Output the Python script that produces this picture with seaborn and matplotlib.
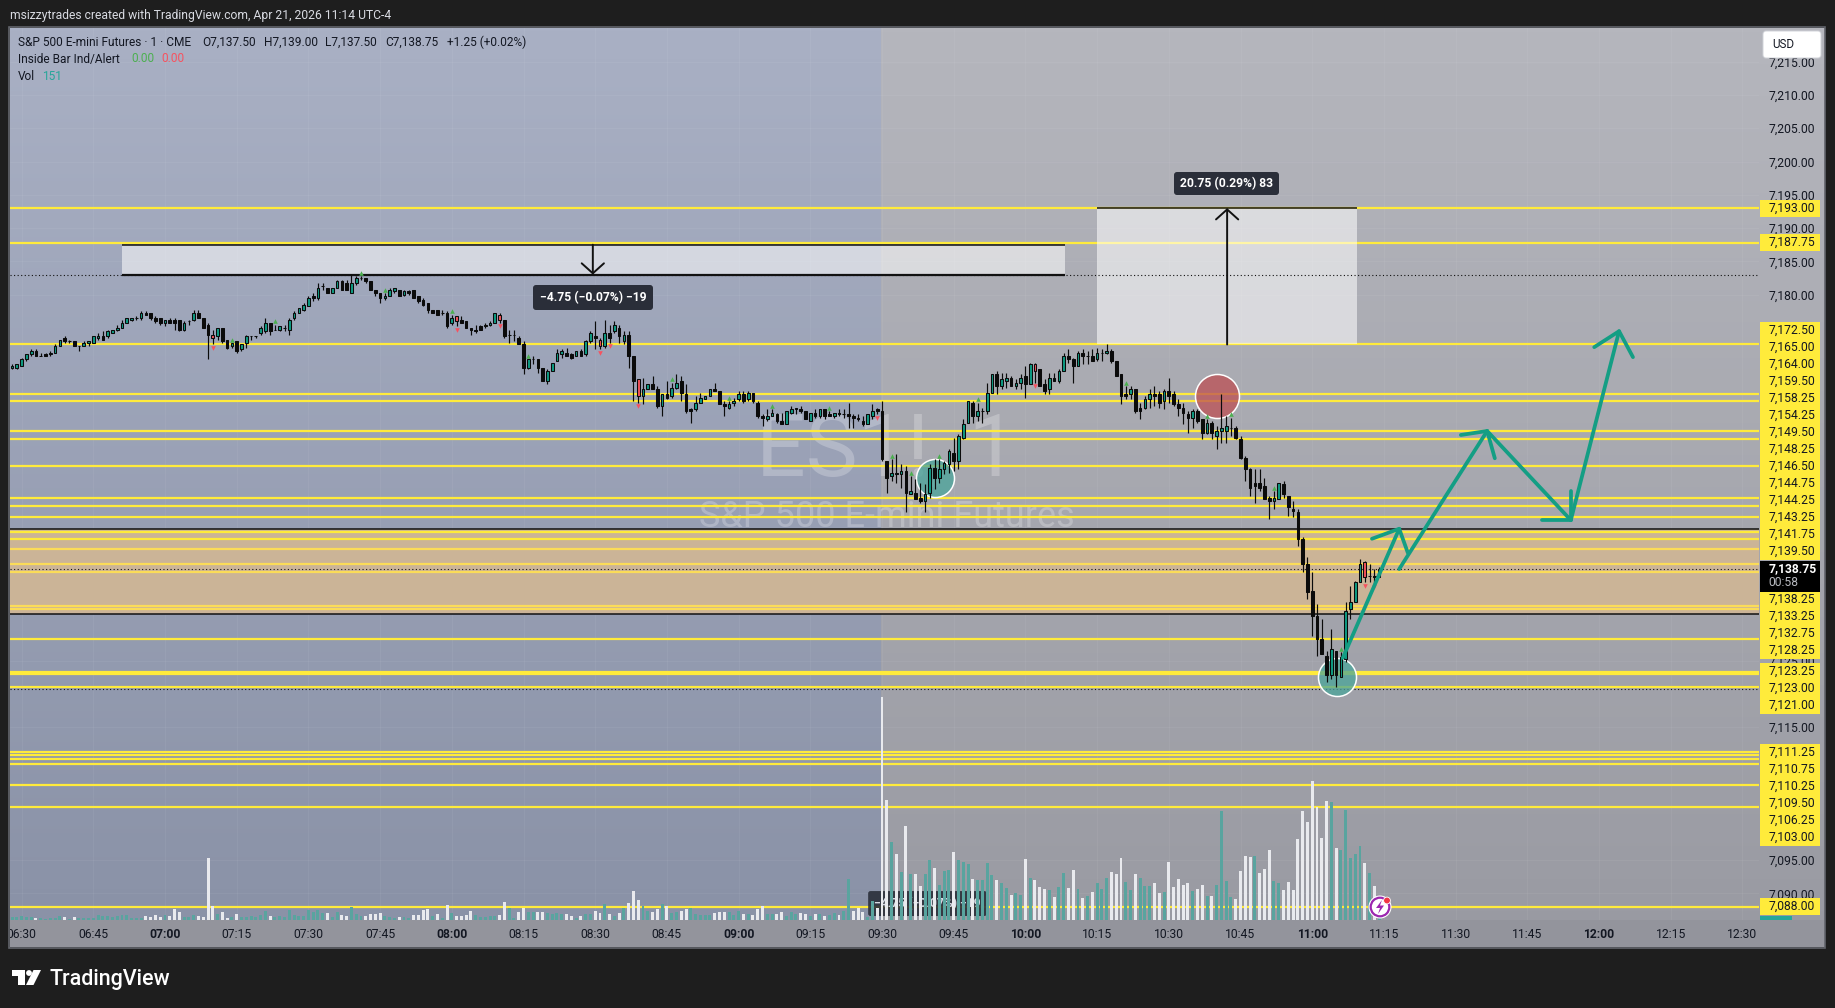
import numpy as np
import pandas as pd
import matplotlib
matplotlib.use("Agg")
import matplotlib.pyplot as plt
import seaborn as sns
from matplotlib.colors import to_rgb
from matplotlib.patches import Circle, FancyBboxPatch, Polygon, Rectangle
from matplotlib.transforms import Bbox

# --- Data ---
SESSION_START = 388  # first bar, minutes after midnight (06:28)
PRICE_BASE = 7100

# all body/wick values are offsets from PRICE_BASE
body_tops = [
    69.25,69.5,70.25,71.0,71.5,71.5,70.75,71.0,71.25,72.25,
    73.25,73.5,73.0,73.0,72.25,72.75,73.0,73.75,73.75,73.75,
    74.5,74.75,75.0,75.75,76.5,76.5,76.5,77.25,77.25,77.25,
    76.5,76.5,76.25,76.25,76.25,76.25,75.75,76.0,77.25,77.25,
    76.5,75.5,74.0,75.0,75.0,73.25,72.75,73.0,72.5,73.75,
    73.75,73.75,75.0,75.75,75.75,74.75,75.25,75.0,76.25,77.25,
    78.0,78.5,79.5,79.75,81.0,81.25,81.0,81.0,82.0,82.0,
    81.75,81.75,82.5,82.5,82.5,82.0,80.75,80.25,79.75,80.75,
    81.0,80.75,80.5,80.5,80.75,79.75,79.25,78.75,77.75,77.75,
    77.25,77.25,76.5,76.75,76.25,76.0,75.0,74.75,75.25,75.5,
    75.75,77.25,77.0,76.25,74.0,74.0,73.5,72.5,70.25,70.25,
    70.25,69.0,68.5,69.75,71.25,71.5,71.25,71.0,71.5,71.5,
    73.0,74.25,73.75,73.25,74.25,74.25,75.5,75.0,74.0,74.0,
    70.75,67.25,65.75,66.5,66.5,65.75,65.0,65.0,66.0,66.75,
    67.0,65.0,62.75,63.75,64.5,64.75,65.75,65.75,65.5,63.5,
    63.5,64.0,65.0,65.0,65.25,65.25,63.75,61.75,61.75,62.25,
    62.0,61.0,62.5,62.75,63.0,62.75,62.5,62.25,62.25,62.75,
    62.75,62.0,62.25,62.25,62.0,62.0,61.75,61.5,61.0,62.0,
    62.5,62.75,62.5,55.0,53.25,53.25,53.5,53.5,50.5,50.25,
    49.5,50.0,54.0,54.0,53.75,54.75,56.5,56.25,58.75,60.5,
    64.0,63.75,62.5,62.5,65.25,68.0,68.0,67.25,67.5,67.5,
    66.75,67.5,67.75,69.5,69.5,68.75,66.5,67.5,67.5,68.5,
    70.75,70.75,70.25,71.25,71.25,70.75,70.75,71.25,71.25,71.5,
    71.5,70.0,68.0,65.0,65.75,65.75,63.0,64.25,65.0,65.0,
    65.0,65.5,65.5,65.0,63.5,63.0,62.0,62.5,62.5,61.25,
    60.75,60.75,59.5,60.0,60.25,60.0,60.0,58.25,55.5,53.75,
    51.75,51.75,51.25,49.5,49.5,51.75,51.5,49.75,47.75,47.25,
    43.25,39.5,35.5,31.75,28.25,25.75,26.75,26.5,25.5,32.5,
    33.75,36.75,39.5,39.75,37.75,37.75,38.75,
]
body_bots = [
    69.0,69.0,69.25,70.25,71.0,70.75,70.75,70.75,71.0,71.25,
    72.25,73.0,73.0,72.25,72.25,72.25,72.75,72.75,73.5,73.25,
    73.75,74.25,74.75,75.0,75.75,76.25,76.5,76.5,77.0,76.5,
    76.0,75.75,75.75,75.75,75.75,74.75,74.75,76.0,76.25,76.5,
    75.0,74.0,73.5,73.75,73.0,72.0,72.25,71.5,71.75,72.75,
    73.75,73.75,74.25,74.5,74.5,74.75,74.75,75.0,74.75,76.5,
    77.25,77.75,78.25,79.5,79.5,81.25,80.25,80.25,81.0,80.75,
    80.75,80.25,81.75,82.5,82.0,80.75,80.25,79.5,79.5,79.75,
    80.5,79.75,80.0,80.25,79.5,79.0,78.5,77.75,77.25,77.0,
    77.25,75.25,75.75,76.0,75.75,75.0,74.75,74.5,74.75,75.25,
    75.5,75.75,76.25,73.75,74.0,74.0,72.5,69.0,69.0,70.25,
    69.0,67.0,67.0,68.5,70.0,71.0,70.75,70.5,70.75,70.75,
    71.0,73.0,73.5,72.25,72.25,73.5,74.5,73.75,73.0,70.75,
    67.0,64.75,64.75,65.75,65.75,63.25,63.25,64.5,64.75,66.0,
    65.25,62.5,62.5,62.75,63.75,64.25,64.75,65.5,63.5,63.25,
    63.0,63.75,64.25,64.0,64.25,64.0,61.75,61.5,61.25,61.75,
    61.0,60.5,60.5,62.25,62.75,62.5,61.25,61.0,61.75,61.75,
    61.75,61.75,61.75,62.0,62.0,61.75,61.5,61.25,60.5,60.5,
    61.75,62.5,55.25,52.5,52.75,53.0,53.0,50.25,50.0,49.25,
    49.0,49.0,50.25,52.5,52.5,53.75,54.5,55.0,55.0,58.5,
    60.75,61.75,61.75,62.5,62.5,65.25,66.25,66.25,67.0,66.25,
    66.25,66.75,66.5,66.5,68.5,66.25,65.5,65.75,67.0,67.0,
    68.5,70.25,69.25,69.25,70.75,70.75,70.0,70.25,71.25,71.25,
    70.0,67.75,64.75,64.75,65.0,62.5,62.5,63.0,64.25,64.75,
    63.75,64.0,64.75,63.5,63.0,62.25,61.5,61.5,61.0,59.25,
    59.25,59.25,58.75,59.5,59.5,60.0,58.5,55.5,53.75,51.0,
    51.25,51.0,49.25,49.0,49.0,49.25,50.0,48.0,47.5,43.25,
    39.5,35.25,31.75,28.25,26.0,22.75,22.75,22.75,22.5,25.25,
    32.75,33.75,36.75,37.5,37.75,37.5,37.5,
]
highs = [
    69.5,69.5,70.5,71.0,71.75,71.75,71.25,71.25,71.5,72.5,
    73.25,73.75,73.25,73.0,72.25,73.0,73.0,73.75,74.25,74.5,
    74.75,74.75,75.5,76.25,76.5,76.5,76.75,77.5,77.5,77.25,
    76.75,76.5,76.25,76.5,76.5,76.25,76.0,76.25,77.75,77.75,
    76.5,75.75,74.75,75.0,75.0,73.25,72.75,73.0,72.5,74.0,
    73.75,73.75,75.25,76.5,75.75,75.5,75.25,75.5,76.5,77.5,
    78.0,78.75,79.75,80.25,81.75,81.75,81.0,81.0,82.25,82.25,
    82.25,83.0,82.75,82.75,82.5,82.0,80.75,80.25,80.25,81.0,
    81.0,80.75,80.75,80.75,80.75,79.75,79.5,78.75,77.75,77.75,
    77.75,77.5,77.0,76.75,76.75,76.0,75.0,75.5,75.5,75.75,
    76.0,77.25,77.25,76.25,74.75,74.75,73.75,73.0,70.25,70.75,
    70.25,69.0,68.75,69.75,71.75,71.75,72.0,71.25,71.5,71.75,
    73.25,74.5,76.0,73.5,76.25,75.5,76.0,75.5,74.5,74.5,
    70.75,67.25,67.5,66.5,67.75,66.25,65.0,67.0,66.75,68.0,
    67.75,66.5,63.0,64.75,65.25,64.75,65.75,66.75,65.5,64.0,
    64.0,64.5,65.5,65.5,65.5,65.25,64.0,62.0,62.75,62.75,
    62.25,62.25,62.5,63.25,63.0,63.25,62.5,62.25,62.75,62.75,
    62.75,62.5,62.25,62.75,62.75,63.75,62.0,62.0,61.75,62.0,
    63.5,63.0,64.0,55.0,55.25,56.0,54.5,54.25,52.75,52.25,
    51.75,51.5,54.5,55.25,55.25,55.0,56.75,58.5,59.0,61.25,
    64.0,64.0,63.75,63.0,66.75,68.0,68.5,68.25,68.25,67.75,
    67.25,68.0,69.25,69.75,69.75,68.75,67.25,68.25,68.25,68.75,
    71.25,71.75,70.5,71.5,71.75,71.5,71.75,72.0,71.75,72.5,
    71.75,70.0,68.0,66.25,66.25,65.75,63.75,64.75,65.75,66.25,
    65.5,65.75,67.5,65.5,64.25,63.75,62.5,62.75,62.75,61.25,
    61.25,61.0,60.25,65.0,61.75,61.5,60.25,58.75,55.75,54.0,
    53.75,53.75,52.5,49.75,50.5,51.75,52.0,49.75,49.0,47.75,
    43.5,40.5,38.25,33.5,31.25,26.5,29.75,26.5,26.25,33.75,
    36.25,37.0,40.25,40.0,39.5,38.75,39.0,
]
lows = [
    68.75,68.75,69.25,70.0,70.75,70.75,70.75,70.75,70.75,71.25,
    72.25,72.75,72.75,72.25,71.5,72.25,72.25,72.75,73.25,73.25,
    73.5,74.25,74.5,75.0,75.75,76.0,76.25,76.25,77.0,76.25,
    75.75,75.5,75.25,75.75,74.75,74.5,74.5,75.5,76.0,76.5,
    75.0,70.25,72.5,73.25,72.75,71.75,72.0,71.25,71.5,72.0,
    73.25,73.5,74.0,74.25,74.0,74.75,74.5,74.5,74.0,76.25,
    77.25,77.5,78.25,79.0,79.25,80.75,80.25,80.25,81.0,80.75,
    80.75,80.25,81.5,82.25,81.75,80.75,79.75,78.75,79.25,79.75,
    80.25,79.75,79.75,80.0,79.5,78.75,78.25,77.25,77.25,77.0,
    77.0,75.0,75.5,75.25,75.75,75.0,74.0,74.25,74.75,75.0,
    75.25,75.75,75.75,73.5,72.75,73.0,72.5,68.0,68.75,69.5,
    68.25,67.0,66.5,68.5,70.0,70.5,70.75,70.25,70.75,70.75,
    70.75,72.75,71.75,71.75,72.0,72.75,74.25,72.75,72.5,69.0,
    64.0,63.75,63.5,65.75,65.75,63.0,61.75,64.25,64.5,65.75,
    64.0,62.25,60.75,62.5,63.75,64.25,64.75,65.5,63.5,61.75,
    62.75,63.25,64.0,63.75,64.0,63.75,61.5,60.25,61.0,61.75,
    60.75,60.5,60.5,62.0,62.0,62.25,61.25,61.0,61.5,61.5,
    61.25,61.75,61.5,61.75,61.5,60.0,60.0,61.0,60.25,60.5,
    61.25,62.0,55.0,50.25,52.0,51.75,51.0,47.25,50.0,49.25,
    48.75,47.25,49.5,50.75,51.75,53.0,53.25,53.5,53.75,58.25,
    60.75,60.75,61.0,60.75,62.0,65.25,65.0,65.75,66.0,66.25,
    65.75,65.75,64.5,66.5,66.75,66.25,65.0,65.0,67.0,66.75,
    68.5,69.75,66.75,69.25,69.5,69.5,70.0,70.0,70.0,71.0,
    69.75,67.75,63.5,64.25,64.25,62.25,61.25,62.75,63.0,63.25,
    63.0,62.75,63.75,63.25,61.75,60.5,59.25,60.0,60.75,58.25,
    59.0,58.25,56.75,57.75,57.75,58.75,58.25,55.25,52.0,49.75,
    48.75,50.5,49.25,46.25,47.75,49.25,49.5,46.75,46.5,42.25,
    38.25,34.25,28.75,25.75,26.0,21.75,22.25,21.0,22.5,24.75,
    31.25,33.75,36.75,36.75,36.75,36.5,37.5,
]
# U up, D down, R down painted red by the inside bar indicator
bar_dirs = (
    "UUUUUDDDUU" "UDDDDUUUUD" "UUUUUUDUDD" "DDUDDDUDUD" "DDRUDDUDUU"
    "DDUUDDUDUU" "UUUDUDDUUD" "DUUDDDDDUU" "UDUDDDDDDD" "DDURDDDDDU"
    "UURDDDDDUD" "DDUUUUDDUD" "UUDRUDUDUD" "DRUUDDUDUU" "DDDUUUUDDD"
    "UUUDUDDDUU" "DDUUUDDUDU" "DDUDDDDDDU" "UDDDUDUDUD" "DUUDUUUDUU"
    "UDUDUUDUUD" "UUDURDDUDU" "UDDUDDDUDU" "DDDDUDDUUD" "DUDDDDDUDD"
    "UDUUUDDDDD" "DDDDUUDDDD" "DDDDDDUDUU" "UUURDDU"
)
volumes = [
    36,36,48,36,36,24,24,12,24,24, 48,36,12,36,24,24,24,24,60,48,
    48,36,48,60,60,24,24,24,48,36, 60,36,60,48,132,96,36,36,60,48,
    36,744,168,72,96,24,36,72,36,36, 48,36,60,108,48,36,48,36,120,60,
    48,48,120,96,120,84,84,36,96,60, 48,156,72,48,48,72,72,84,48,36,
    24,36,36,24,60,60,120,132,48,72, 24,180,84,48,48,60,108,60,36,36,
    48,48,60,216,144,24,96,144,96,96, 96,96,84,72,84,72,72,48,24,48,
    72,72,108,84,192,72,48,84,144,204, 348,240,168,108,96,132,192,168,84,96,
    108,132,144,72,60,60,60,84,96,96, 96,60,108,72,72,60,132,168,72,72,
    72,96,48,96,72,84,72,48,72,72, 48,60,84,60,108,492,108,144,96,36,
    228,144,2676,1440,936,792,576,1128,552,552, 408,552,720,624,420,588,600,816,720,696,
    672,492,480,480,684,540,480,444,384,300, 324,300,732,504,480,396,372,360,276,396,
    564,384,600,372,264,288,336,444,372,504, 576,552,744,456,360,552,504,408,408,444,
    324,336,696,396,492,420,444,348,372,420, 288,288,420,1308,468,276,252,588,768,756,
    768,564,612,840,468,444,360,456,360,972, 1308,1176,1668,1356,984,1428,1416,864,840,1320,
    744,792,888,684,564,408,151,
]
# T teal, W white volume bar
volume_sides = (
    "TTTTTWTTTT" "TWTWTTTTTT" "TTTTTTTTWW" "WWTWWWTTTW" "WWWTWWTWTT"
    "TTTTWTTTTT" "TTTTTTWTTW" "WTTTWWWWTT" "TWTTWWWWTW" "TWTWWWWTTT"
    "TTWWTTWWTT" "WWTTTTWWTW" "TTWWTWTWTW" "WWTTWWTWTT" "WWTTTTTWWW"
    "TTTWTWWWTT" "WWTTTWWTWT" "WTTWTTWWWT" "TWWWTWTWTW" "WTTWTTTWTT"
    "TWTTTTWTTW" "TTWTWWWTWT" "TWWTWTWTTT" "WWWTTWTTTW" "WTWWWWWTWW"
    "TWTTTTWWWW" "TWWWTTWWWW" "WWWWWWTWTT" "TTTWTWT"
)
# bar numbers (1 based) carrying the small inside bar arrows
green_arrow_bars = [47, 56, 74, 79, 93, 109, 139, 151, 160, 172, 185, 189, 195, 203, 234, 251, 256, 265, 279]
red_arrow_bars = [43, 94, 103, 124, 126, 132, 182, 215, 284, 286]

yellow_levels = [7193.00, 7187.75, 7172.50, 7165.00, 7164.00, 7159.50, 7158.25, 7154.25, 7149.50, 7148.25,
                 7146.50, 7128.25, 7123.25, 7123.00, 7121.00, 7111.25, 7110.75, 7110.25, 7109.50, 7106.25,
                 7103.00, 7088.00, 7144.25, 7143.25]
zone_levels = [7141.75, 7139.50, 7138.25, 7133.25, 7132.75]
zone_top, zone_bottom = 7144.75, 7132.00
dotted_levels = [7183.00, 7138.75, 7120.75]

# price tags on the right scale, one list per stacked block
tag_blocks = [
    (208.0, ["7,193.00"]),
    (242.7, ["7,187.75"]),
    (330.7, ["7,172.50", "7,165.00", "7,164.00", "7,159.50", "7,158.25", "7,154.25", "7,149.50", "7,148.25",
             "7,146.50", "7,144.75", "7,144.25", "7,143.25", "7,141.75", "7,139.50"]),
    (599.7, ["7,138.25", "7,133.25", "7,132.75", "7,128.25"]),
    (671.7, ["7,123.25", "7,123.00", "7,121.00"]),
    (752.7, ["7,111.25", "7,110.75", "7,110.25", "7,109.50", "7,106.25", "7,103.00"]),
    (906.7, ["7,088.00"]),
]
# the other round prices sit fully under the yellow tags
price_ticks = [7090, 7095, 7115, 7125, 7180, 7185, 7190, 7195, 7200, 7205, 7210, 7215]
time_ticks = ["06:30", "06:45", "07:00", "07:15", "07:30", "07:45", "08:00", "08:15", "08:30", "08:45", "09:00",
              "09:15", "09:30", "09:45", "10:00", "10:15", "10:30", "10:45", "11:00", "11:15", "11:30", "11:45",
              "12:00", "12:15", "12:30"]

W, H = 1835, 1008
DARK = "#1e1e1e"
TEXT = "#131722"
YELLOW = "#ffeb3b"
TEAL_ARROW = "#149e84"


def to_minute(label):
    hh, mm = label.split(":")
    return int(hh) * 60 + int(mm)


def gradient(top, bottom, n=256):
    a, b = np.array(to_rgb(top)), np.array(to_rgb(bottom))
    return np.linspace(a, b, n)[:, None, :]


def px_axes(left, top, right, bottom, zorder):
    return fig.add_axes([left / W, (H - bottom) / H, (right - left) / W, (bottom - top) / H], zorder=zorder)


sns.set_theme(style="dark")
plt.rcParams["font.family"] = ["Roboto", "DejaVu Sans"]

fig = plt.figure(figsize=(W / 100, H / 100), dpi=100, facecolor=DARK)

# --- background of the panel ---
bg = px_axes(0, 0, W, H, 0)
bg.set_xlim(0, W)
bg.set_ylim(H, 0)
bg.axis("off")
bg.imshow(gradient("#b5b6bd", "#999aa2"), extent=(10, 1824, 947, 28), aspect="auto", zorder=1)
bg.imshow(gradient("#a9b0c4", "#8a92a7"), extent=(10, 880, 920, 28), aspect="auto", zorder=2)
bg.add_patch(Rectangle((10, 920), 1814, 27, color="#93949c", zorder=3, lw=0))
bg.add_patch(Rectangle((9, 27), 1815.5, 920.5, fill=False, ec="#62646b", lw=1.2, zorder=4))
bg.set_xlim(0, W)
bg.set_ylim(H, 0)

# --- price panel ---
ax = px_axes(10, 28, 1759, 920, 1)
ax.patch.set_alpha(0)
for side in ax.spines.values():
    side.set_visible(False)

minutes = np.arange(len(body_tops)) + SESSION_START
tops = np.array(body_tops) + PRICE_BASE
bots = np.array(body_bots) + PRICE_BASE
wick_hi = np.array(highs) + PRICE_BASE
wick_lo = np.array(lows) + PRICE_BASE
fill_map = {"U": "#0f9a82", "D": "#0b0b0b", "R": "#f0525a"}
fills = [fill_map[d] for d in bar_dirs]

# watermark
ax.text(0.5012, 0.5245, "ES1!, 1", transform=ax.transAxes, ha="center", va="center", fontsize=63,
        color="white", alpha=0.24, zorder=1)
ax.text(0.5015, 0.4515, "S&P 500 E-mini Futures", transform=ax.transAxes, ha="center", va="center", fontsize=26,
        color="white", alpha=0.24, zorder=1)

ax.axhspan(zone_bottom, zone_top, color="#cbb497", lw=0, zorder=2)
ax.hlines(yellow_levels, 0, 1, transform=ax.get_yaxis_transform(), colors=YELLOW, lw=1.6, zorder=3)
ax.hlines(zone_levels, 0, 1, transform=ax.get_yaxis_transform(), colors="#fbdc58", lw=1.6, zorder=3)
ax.hlines([zone_top, zone_bottom], 0, 1, transform=ax.get_yaxis_transform(), colors="#111111", lw=1.1, zorder=3.2)
ax.hlines(dotted_levels, 0, 1, transform=ax.get_yaxis_transform(), colors="#111111", lw=0.8,
          linestyles=(0, (1, 2.2)), zorder=3.2)

# drawn ranges
ax.add_patch(Rectangle((410.9, 7183.0), 197.4, 4.5, fc="white", alpha=0.55, lw=0, zorder=3.1))
ax.add_patch(Rectangle((615.0, 7172.5), 54.4, 20.5, fc="white", alpha=0.55, lw=0, zorder=3.1))
ax.hlines([7187.5], 410.9, 608.3, colors="#111111", lw=1.1, zorder=3.3)
ax.hlines([7183.0], 410.9, 608.3, colors="#111111", lw=1.6, zorder=3.3)
ax.hlines([7193.0], 615.0, 669.4, colors="#111111", lw=1.1, zorder=3.3)
arrow_style = dict(arrowstyle="->,head_length=0.72,head_width=0.8", color="#111111", lw=1.4,
                   shrinkA=0, shrinkB=0, mutation_scale=10)
ax.annotate("", xy=(509.5, 7183.0), xytext=(509.5, 7187.5), arrowprops=arrow_style, zorder=3.4)
ax.annotate("", xy=(642.2, 7193.0), xytext=(642.2, 7172.5), arrowprops=arrow_style, zorder=3.4)

# circles
ax.scatter([581.1, 665.2], [7152.4, 7122.5], s=750, fc=(0.29, 0.647, 0.604, 0.75), ec="white", lw=1.1, zorder=3.5)
ax.scatter([640.1], [7164.75], s=1003, fc=(0.737, 0.31, 0.33, 0.75), ec="white", lw=1.1, zorder=3.5)

# candles
ax.vlines(minutes, wick_lo, wick_hi, colors="#0b0b0b", lw=0.85, zorder=4)
ax.bar(minutes, tops - bots, bottom=bots, width=0.56, color=fills, edgecolor="#0b0b0b", linewidth=0.75, zorder=5)

green_idx = np.array(green_arrow_bars) - 1
red_idx = np.array(red_arrow_bars) - 1
ax.scatter(minutes[green_idx], wick_hi[green_idx] + 0.5, marker="^", s=11, color="#4caf50", lw=0, zorder=5.5)
ax.scatter(minutes[red_idx], wick_lo[red_idx] - 0.5, marker="v", s=11, color="#f7525f", lw=0, zorder=5.5)

# hand drawn forecast arrows
forecast_paths = [
    ([666.4, 678.2], [7125.4, 7144.8]),
    ([672.5, 678.2, 680.0], [7143.3, 7144.8, 7141.2]),
    ([678.2, 696.6], [7138.75, 7159.5]),
    ([691.1, 696.6, 698.2], [7158.9, 7159.5, 7155.4]),
    ([696.6, 714.1], [7159.5, 7146.1]),
    ([708.1, 714.1, 714.1], [7146.1, 7146.1, 7150.5]),
    ([714.1, 724.2], [7146.1, 7174.5]),
    ([719.0, 724.2, 727.1], [7172.1, 7174.5, 7170.6]),
]
for xs, ys in forecast_paths:
    ax.plot(xs, ys, color=TEAL_ARROW, lw=2.7, solid_capstyle="round", solid_joinstyle="round", zorder=6)

ax.set_xlim(387.57, 753.47)
ax.set_ylim(7086.0, 7220.07)
ax.yaxis.tick_right()
ax.set_yticks(price_ticks)
ax.set_yticklabels([f"{p:,.2f}" for p in price_ticks], fontsize=8.7, color=TEXT, ha="left")
ax.set_xticks([to_minute(t) for t in time_ticks])
ax.set_xticklabels(time_ticks, fontsize=8.7, color=TEXT)
ax.tick_params(axis="both", length=0)
ax.tick_params(axis="y", pad=6.7)
ax.tick_params(axis="x", pad=5.6)
ax.grid(True, color="white", alpha=0.05, lw=0.7)
ax.set_axisbelow(True)
clip_left = Bbox.from_extents(10, 0, W, H)
for lbl in ax.get_xticklabels():
    if lbl.get_text().endswith(":00"):
        lbl.set_fontweight("bold")
    lbl.set_clip_box(clip_left)
    lbl.set_clip_on(True)

# ghost of the measure label behind the volume bars
ax.add_patch(FancyBboxPatch((567.1, 7086.6), 24.8, 3.75, boxstyle="round,pad=0,rounding_size=0.5",
                            mutation_aspect=0.7, fc="#2a2e39", alpha=0.9, lw=0, zorder=3.6))
ax.text(579.5, 7088.5, "\u22124.75 (\u22120.07%) \u221219", ha="center", va="center", fontsize=8.7,
        color="#d8dbe4", fontweight="bold", zorder=3.7)

# --- volume panel, same x scale as prices ---
vol_ax = px_axes(10, 28, 1759, 920, 2)
vol_ax.patch.set_alpha(0)
vol_df = pd.DataFrame({"minute": minutes, "volume": volumes, "side": list(volume_sides)})
sns.barplot(data=vol_df, x="minute", y="volume", hue="side", palette={"T": "#59a49f", "W": "#e9eaee"},
            native_scale=True, width=0.62, dodge=False, errorbar=None, legend=False, saturation=1,
            linewidth=0, ax=vol_ax)
vol_ax.set_xlim(387.57, 753.47)
vol_ax.set_ylim(0, 892 * 12)
vol_ax.axis("off")

# --- everything around the chart, in picture pixels ---
ui = px_axes(0, 0, W, H, 3)
ui.set_xlim(0, W)
ui.set_ylim(H, 0)
ui.axis("off")
ui.patch.set_alpha(0)

ui.text(10, 15, "msizzytrades created with TradingView.com, Apr 21, 2026 11:14 UTC-4", fontsize=8.75,
        color="#d9dbe2", va="center")

ui.text(18, 42, "S&P 500 E-mini Futures \u00b7 1 \u00b7 CME", fontsize=8.6, color=TEXT, va="center")
for x, s in [(202, "O7,137.50"), (264, "H7,139.00"), (325, "L7,137.50"), (385, "C7,138.75"),
             (447, "+1.25 (+0.02%)")]:
    ui.text(x, 42, s, fontsize=8.6, color=TEXT, va="center")
ui.text(18, 59, "Inside Bar Ind/Alert", fontsize=8.6, color=TEXT, va="center")
ui.text(131, 59, "0.00", fontsize=8.6, color="#4caf50", va="center")
ui.text(161, 59, "0.00", fontsize=8.6, color="#f7525f", va="center")
ui.text(18, 76, "Vol", fontsize=8.6, color=TEXT, va="center")
ui.text(42, 76, "151", fontsize=8.6, color="#26a69a", va="center")

# yellow tags
for start_y, labels in tag_blocks:
    ui.add_patch(Rectangle((1760, start_y - 8.5), 60, 17 * len(labels), fc=YELLOW, lw=0, zorder=2))
    for i, s in enumerate(labels):
        ui.text(1768.3, start_y + 17 * i, s, fontsize=8.7, color=TEXT, va="center", zorder=3)
ui.add_patch(Rectangle((1760, 561), 60, 31, fc="black", lw=0, zorder=2))
ui.text(1768.3, 568.7, "7,138.75", fontsize=8.7, color="white", fontweight="bold", va="center", zorder=3)
ui.text(1768.3, 582, "00:58", fontsize=8.7, color="#b8bac0", va="center", zorder=3)
ui.add_patch(Rectangle((1760, 916), 32, 4, fc="#26a69a", lw=0, zorder=2))

# currency button
ui.add_patch(FancyBboxPatch((1764, 32), 56, 25, boxstyle="round,pad=1,rounding_size=3", fc="white",
                            ec="#d0d2d8", lw=0.7, zorder=4))
ui.text(1772, 44.5, "USD", fontsize=8.4, color=TEXT, va="center", zorder=5)

# measure labels
for x0, y0, w, h, s in [(533, 285, 120, 25, "\u22124.75 (\u22120.07%) \u221219"),
                        (1174, 172, 105, 23, "20.75 (0.29%) 83")]:
    ui.add_patch(FancyBboxPatch((x0, y0), w, h, boxstyle="round,pad=0,rounding_size=3", fc="#2a2e39", lw=0, zorder=4))
    ui.text(x0 + w / 2, y0 + h / 2, s, fontsize=8.7, color="white", fontweight="bold", ha="center", va="center",
            zorder=5)

# lightning button near the last bar
ui.add_patch(Circle((1380, 907), 11.5, fc="white", lw=0, zorder=4))
ui.add_patch(Circle((1380, 907), 9.3, fc="white", ec="#9c27b0", lw=1.6, zorder=5))
ui.add_patch(Polygon([(1382, 900), (1376, 908), (1380, 908), (1378, 914), (1384, 905.5), (1380, 905.5)],
                     fc="#9c27b0", lw=0, zorder=6))
ui.add_patch(Circle((1387, 900.5), 3.4, fc="#f23645", ec="white", lw=0.6, zorder=7))

# TradingView logo
ui.add_patch(Polygon([(12, 970), (24.5, 970), (24.5, 985), (18, 985), (18, 976), (12, 976)], fc="white", lw=0))
ui.add_patch(Circle((29, 973), 2.9, fc="white", lw=0))
ui.add_patch(Polygon([(33.5, 970), (41, 970), (33.5, 985), (26, 985)], fc="white", lw=0))
ui.text(49, 979, "TradingView", fontsize=15.5, color="white", va="center", fontweight="medium")

fig.savefig("out.png", dpi=100, facecolor=DARK)
